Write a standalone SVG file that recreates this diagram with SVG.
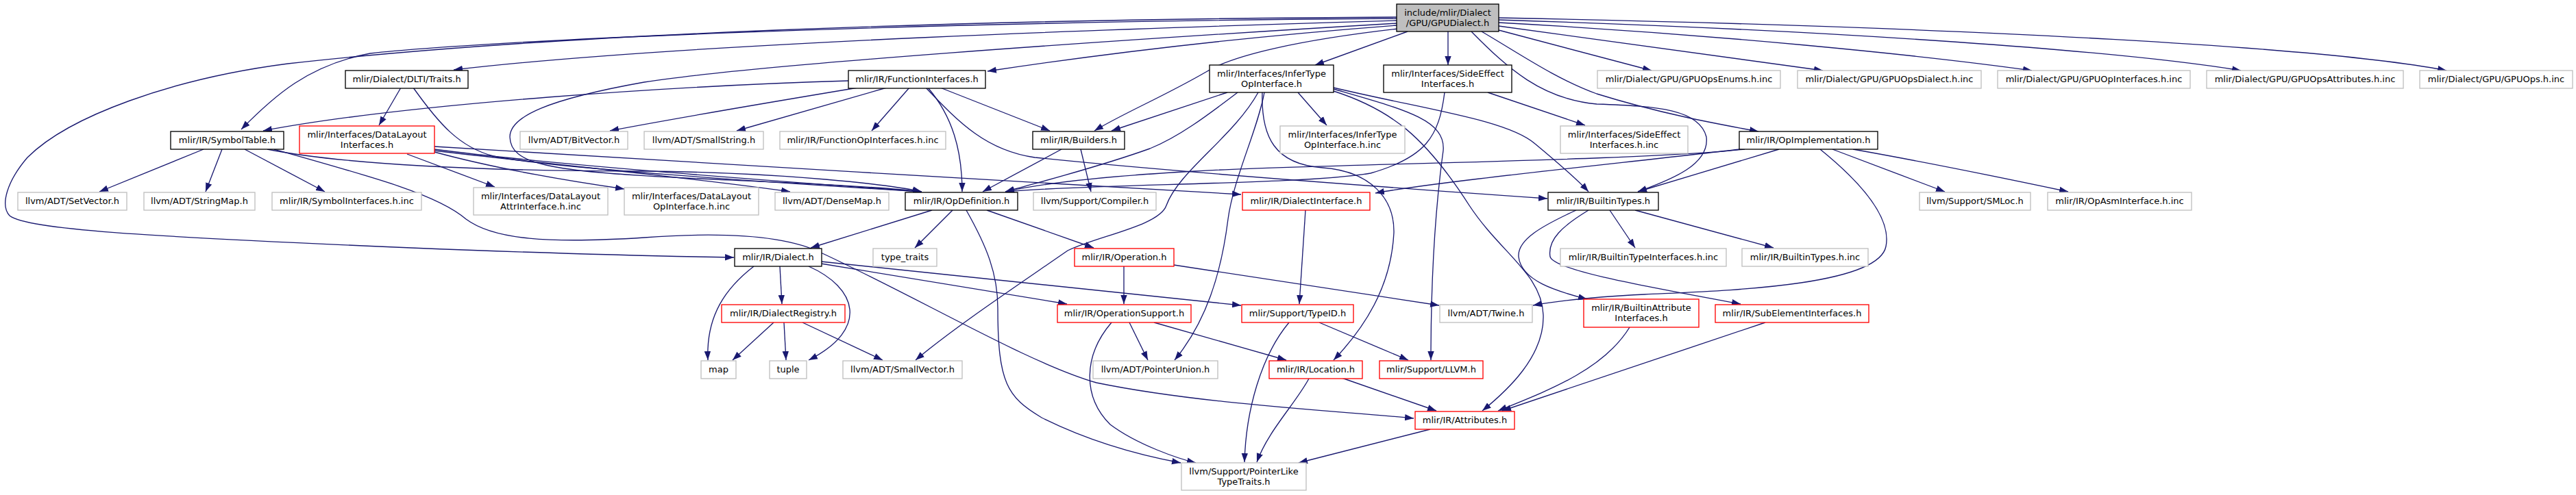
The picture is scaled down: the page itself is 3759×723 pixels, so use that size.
<svg xmlns="http://www.w3.org/2000/svg" width="3759" height="723" viewBox="0 0 3759 723">
<style>
.n rect{fill:#fff;stroke:#000;stroke-width:1.33}
.n.g rect{stroke:#bfbfbf}
.n.r rect{stroke:#ff0000}
.n.top rect{fill:#bfbfbf}
text{font-family:"DejaVu Sans","Liberation Sans",sans-serif;font-size:13px;text-anchor:middle;fill:#000}
#edges path{fill:none;stroke:#191970;stroke-width:1.33;marker-end:url(#a)}
</style>
<defs>
<marker id="a" markerUnits="userSpaceOnUse" markerWidth="14" markerHeight="10" refX="13" refY="5" orient="auto"><path d="M0,0.3 L13,5 L0,9.7 z" fill="#191970"/></marker>
</defs>
<rect width="3759" height="723" fill="#fff"/>
<g id="edges">
<path d="M2038,30 C1700,40 1000,62 662,102"/>
<path d="M2038,27 C1300,32 700,60 540,78 C450,95 400,140 352,189"/>
<path d="M2038,25 C1400,28 800,50 420,93 C250,115 100,170 40,230 C10,265 0,300 14,315 C40,335 200,345 600,362 C800,370 950,374 1071,376"/>
<path d="M2038,37 C1800,55 1600,80 1441,104"/>
<path d="M2038,34 C1600,60 1100,95 940,120 C800,145 744,170 744,200 C745,240 800,250 1000,260 C1150,267 1280,272 1345,280"/>
<path d="M2040,42 C1900,58 1800,80 1760,105 C1700,140 1640,165 1597,191"/>
<path d="M2054,46 L1919,95"/>
<path d="M2113,46 L2113,95"/>
<path d="M2187,44 L2410,103"/>
<path d="M2187,38 L2660,103"/>
<path d="M2187,33 C2500,50 2800,80 2965,103"/>
<path d="M2187,29 C2700,45 3100,75 3270,103"/>
<path d="M2187,26 C2900,40 3400,70 3570,103"/>
<path d="M2162,46 C2220,80 2270,115 2330,137 C2420,165 2500,180 2566,192"/>
<path d="M2147,46 C2200,100 2250,145 2330,152 C2420,155 2480,160 2490,200 C2495,240 2440,262 2390,280"/>
<path d="M585,128 L553,183"/>
<path d="M603,128 C640,180 670,215 720,228 C800,245 1100,265 1345,280"/>
<path d="M297,218 L145,280"/>
<path d="M324,218 L300,280"/>
<path d="M357,218 L474,280"/>
<path d="M390,218 C500,240 700,250 940,250 C1150,252 1300,270 1345,280"/>
<path d="M400,218 C550,260 640,285 680,320 C720,350 800,356 940,347 C1060,338 1150,345 1200,370 C1350,440 1500,530 1600,559 C1750,590 1950,600 2063,611"/>
<path d="M594,225 L722,273"/>
<path d="M634,222 C700,240 800,260 911,276"/>
<path d="M634,220 C800,240 1000,258 1153,280"/>
<path d="M634,218 C800,240 1100,262 1345,280"/>
<path d="M634,214 C900,232 1500,265 1811,284"/>
<path d="M1238,118 C1000,125 600,150 384,191"/>
<path d="M1252,128 C1150,145 1000,170 890,191"/>
<path d="M1294,128 L1075,191"/>
<path d="M1327,128 L1272,191"/>
<path d="M1354,128 C1390,170 1404,220 1404,280"/>
<path d="M1351,128 C1400,180 1440,220 1510,230 C1700,250 2000,272 2258,290"/>
<path d="M1372,128 L1532,191"/>
<path d="M1791,135 L1622,191"/>
<path d="M1806,135 C1760,170 1720,200 1678,217 C1600,245 1520,265 1467,280"/>
<path d="M1894,135 L1936,183"/>
<path d="M1836,135 C1800,200 1720,250 1702,300 C1692,330 1600,345 1558,366 C1480,420 1390,480 1336,526"/>
<path d="M1845,135 C1835,190 1800,260 1792,320 C1782,400 1760,470 1714,526"/>
<path d="M1842,135 C1840,200 1860,240 1930,245 C2000,250 2035,290 2034,340 C2030,420 1990,480 1946,526"/>
<path d="M1946,130 C2050,160 2110,175 2106,220 C2095,300 2088,400 2088,526"/>
<path d="M1946,133 C2030,160 2080,200 2144,300 C2190,370 2250,400 2252,460 C2254,520 2200,570 2163,600"/>
<path d="M1946,128 C2080,160 2200,175 2240,210 C2270,235 2300,260 2318,280"/>
<path d="M2108,135 C2100,200 2080,230 2000,253 C1900,270 1600,268 1467,280"/>
<path d="M2171,135 L2313,183"/>
<path d="M1549,218 L1434,280"/>
<path d="M1577,218 L1592,280"/>
<path d="M2546,218 C2400,235 1900,240 1744,250 C1600,258 1520,268 1467,280"/>
<path d="M2539,218 C2350,240 2100,265 2007,282"/>
<path d="M2596,218 L2390,280"/>
<path d="M2656,218 C2720,270 2760,320 2752,360 C2740,420 2500,425 2400,430 C2320,434 2270,440 2237,446"/>
<path d="M2674,218 L2838,280"/>
<path d="M2704,218 C2800,235 2900,255 3018,280"/>
<path d="M1360,307 L1183,362"/>
<path d="M1390,307 L1335,362"/>
<path d="M1410,307 C1440,360 1456,400 1456,450 C1456,560 1470,580 1520,610 C1600,650 1680,668 1723,676"/>
<path d="M1440,307 L1596,362"/>
<path d="M1100,389 C1060,420 1030,460 1033,526"/>
<path d="M1138,389 L1141,444"/>
<path d="M1180,389 C1250,420 1270,480 1180,526"/>
<path d="M1198,385 L1557,444"/>
<path d="M1198,382 L1811,446"/>
<path d="M1129,471 L1069,526"/>
<path d="M1144,471 L1147,526"/>
<path d="M1171,471 L1288,526"/>
<path d="M1640,389 L1640,444"/>
<path d="M1713,387 L2100,446"/>
<path d="M1622,471 C1580,520 1580,580 1620,620 C1660,650 1720,670 1745,676"/>
<path d="M1648,471 L1675,526"/>
<path d="M1684,471 L1877,526"/>
<path d="M1881,471 C1840,520 1818,600 1816,675"/>
<path d="M1925,471 L2055,526"/>
<path d="M1905,307 L1896,444"/>
<path d="M1958,552 L2096,600"/>
<path d="M1910,553 C1890,590 1850,630 1834,675"/>
<path d="M2087,627 L1895,676"/>
<path d="M2349,307 L2386,362"/>
<path d="M2386,307 L2588,362"/>
<path d="M2300,307 C2250,330 2214,350 2216,375 C2220,410 2270,425 2316,437"/>
<path d="M2318,307 C2280,330 2258,350 2262,375 C2268,395 2400,418 2540,444"/>
<path d="M2378,478 C2340,540 2260,570 2186,600"/>
<path d="M2576,471 L2192,600"/>
</g>
<g id="n0" class="n top"><rect x="2038" y="6" width="149" height="40"/><text x="2112.5" y="23">include/mlir/Dialect</text><text x="2112.5" y="38">/GPU/GPUDialect.h</text></g>
<g id="n1" class="n"><rect x="504" y="103" width="179" height="26"/><text x="593.5" y="120">mlir/Dialect/DLTI/Traits.h</text></g>
<g id="n2" class="n"><rect x="249" y="192" width="165" height="26"/><text x="331.5" y="209">mlir/IR/SymbolTable.h</text></g>
<g id="n3" class="n r"><rect x="437" y="184" width="197" height="40"/><text x="535.5" y="201">mlir/Interfaces/DataLayout</text><text x="535.5" y="216">Interfaces.h</text></g>
<g id="n4" class="n g"><rect x="759" y="192" width="157" height="26"/><text x="837.5" y="209">llvm/ADT/BitVector.h</text></g>
<g id="n5" class="n g"><rect x="26" y="281" width="159" height="26"/><text x="105.5" y="298">llvm/ADT/SetVector.h</text></g>
<g id="n6" class="n g"><rect x="210" y="281" width="162" height="26"/><text x="291" y="298">llvm/ADT/StringMap.h</text></g>
<g id="n7" class="n g"><rect x="397" y="281" width="218" height="26"/><text x="506" y="298">mlir/IR/SymbolInterfaces.h.inc</text></g>
<g id="n8" class="n g"><rect x="691" y="274" width="196" height="40"/><text x="789" y="291">mlir/Interfaces/DataLayout</text><text x="789" y="306">AttrInterface.h.inc</text></g>
<g id="n9" class="n g"><rect x="911" y="274" width="196" height="40"/><text x="1009" y="291">mlir/Interfaces/DataLayout</text><text x="1009" y="306">OpInterface.h.inc</text></g>
<g id="n10" class="n"><rect x="1238" y="103" width="200" height="26"/><text x="1338" y="120">mlir/IR/FunctionInterfaces.h</text></g>
<g id="n11" class="n"><rect x="1765" y="95" width="181" height="40"/><text x="1855.5" y="112">mlir/Interfaces/InferType</text><text x="1855.5" y="127">OpInterface.h</text></g>
<g id="n12" class="n g"><rect x="940" y="192" width="174" height="26"/><text x="1027" y="209">llvm/ADT/SmallString.h</text></g>
<g id="n13" class="n g"><rect x="1138" y="192" width="242" height="26"/><text x="1259" y="209">mlir/IR/FunctionOpInterfaces.h.inc</text></g>
<g id="n14" class="n"><rect x="1507" y="192" width="134" height="26"/><text x="1574" y="209">mlir/IR/Builders.h</text></g>
<g id="n15" class="n g"><rect x="1868" y="184" width="182" height="40"/><text x="1959" y="201">mlir/Interfaces/InferType</text><text x="1959" y="216">OpInterface.h.inc</text></g>
<g id="n16" class="n g"><rect x="1131" y="281" width="166" height="26"/><text x="1214" y="298">llvm/ADT/DenseMap.h</text></g>
<g id="n17" class="n"><rect x="1321" y="281" width="164" height="26"/><text x="1403" y="298">mlir/IR/OpDefinition.h</text></g>
<g id="n18" class="n g"><rect x="1508" y="281" width="179" height="26"/><text x="1597.5" y="298">llvm/Support/Compiler.h</text></g>
<g id="n19" class="n r"><rect x="1813" y="281" width="186" height="26"/><text x="1906" y="298">mlir/IR/DialectInterface.h</text></g>
<g id="n20" class="n"><rect x="2019" y="95" width="187" height="40"/><text x="2112.5" y="112">mlir/Interfaces/SideEffect</text><text x="2112.5" y="127">Interfaces.h</text></g>
<g id="n21" class="n g"><rect x="2331" y="103" width="267" height="26"/><text x="2464.5" y="120">mlir/Dialect/GPU/GPUOpsEnums.h.inc</text></g>
<g id="n22" class="n g"><rect x="2623" y="103" width="268" height="26"/><text x="2757" y="120">mlir/Dialect/GPU/GPUOpsDialect.h.inc</text></g>
<g id="n23" class="n g"><rect x="2915" y="103" width="281" height="26"/><text x="3055.5" y="120">mlir/Dialect/GPU/GPUOpInterfaces.h.inc</text></g>
<g id="n24" class="n g"><rect x="3220" y="103" width="287" height="26"/><text x="3363.5" y="120">mlir/Dialect/GPU/GPUOpsAttributes.h.inc</text></g>
<g id="n25" class="n g"><rect x="3531" y="103" width="223" height="26"/><text x="3642.5" y="120">mlir/Dialect/GPU/GPUOps.h.inc</text></g>
<g id="n26" class="n g"><rect x="2277" y="184" width="186" height="40"/><text x="2370" y="201">mlir/Interfaces/SideEffect</text><text x="2370" y="216">Interfaces.h.inc</text></g>
<g id="n27" class="n"><rect x="2538" y="192" width="202" height="26"/><text x="2639" y="209">mlir/IR/OpImplementation.h</text></g>
<g id="n28" class="n"><rect x="2259" y="281" width="161" height="26"/><text x="2339.5" y="298">mlir/IR/BuiltinTypes.h</text></g>
<g id="n29" class="n g"><rect x="2801" y="281" width="162" height="26"/><text x="2882" y="298">llvm/Support/SMLoc.h</text></g>
<g id="n30" class="n g"><rect x="2988" y="281" width="210" height="26"/><text x="3093" y="298">mlir/IR/OpAsmInterface.h.inc</text></g>
<g id="n31" class="n"><rect x="1072" y="363" width="127" height="26"/><text x="1135.5" y="380">mlir/IR/Dialect.h</text></g>
<g id="n32" class="n g"><rect x="1274" y="363" width="93" height="26"/><text x="1320.5" y="380">type_traits</text></g>
<g id="n33" class="n r"><rect x="1568" y="363" width="145" height="26"/><text x="1640.5" y="380">mlir/IR/Operation.h</text></g>
<g id="n34" class="n g"><rect x="2277" y="363" width="242" height="26"/><text x="2398" y="380">mlir/IR/BuiltinTypeInterfaces.h.inc</text></g>
<g id="n35" class="n g"><rect x="2542" y="363" width="184" height="26"/><text x="2634" y="380">mlir/IR/BuiltinTypes.h.inc</text></g>
<g id="n36" class="n r"><rect x="1053" y="445" width="180" height="26"/><text x="1143" y="462">mlir/IR/DialectRegistry.h</text></g>
<g id="n37" class="n r"><rect x="1543" y="445" width="195" height="26"/><text x="1640.5" y="462">mlir/IR/OperationSupport.h</text></g>
<g id="n38" class="n r"><rect x="1812" y="445" width="163" height="26"/><text x="1893.5" y="462">mlir/Support/TypeID.h</text></g>
<g id="n39" class="n g"><rect x="2101" y="445" width="135" height="26"/><text x="2168.5" y="462">llvm/ADT/Twine.h</text></g>
<g id="n40" class="n r"><rect x="2311" y="437" width="168" height="41"/><text x="2395" y="454">mlir/IR/BuiltinAttribute</text><text x="2395" y="469">Interfaces.h</text></g>
<g id="n41" class="n r"><rect x="2503" y="445" width="224" height="26"/><text x="2615" y="462">mlir/IR/SubElementInterfaces.h</text></g>
<g id="n42" class="n g"><rect x="1023" y="527" width="51" height="26"/><text x="1048.5" y="544">map</text></g>
<g id="n43" class="n g"><rect x="1123" y="527" width="54" height="26"/><text x="1150" y="544">tuple</text></g>
<g id="n44" class="n g"><rect x="1230" y="527" width="174" height="26"/><text x="1317" y="544">llvm/ADT/SmallVector.h</text></g>
<g id="n45" class="n g"><rect x="1595" y="527" width="182" height="26"/><text x="1686" y="544">llvm/ADT/PointerUnion.h</text></g>
<g id="n46" class="n r"><rect x="1852" y="527" width="136" height="26"/><text x="1920" y="544">mlir/IR/Location.h</text></g>
<g id="n47" class="n r"><rect x="2013" y="527" width="151" height="26"/><text x="2088.5" y="544">mlir/Support/LLVM.h</text></g>
<g id="n48" class="n r"><rect x="2065" y="601" width="145" height="26"/><text x="2137.5" y="618">mlir/IR/Attributes.h</text></g>
<g id="n49" class="n g"><rect x="1724" y="676" width="182" height="40"/><text x="1815" y="693">llvm/Support/PointerLike</text><text x="1815" y="708">TypeTraits.h</text></g>
</svg>
